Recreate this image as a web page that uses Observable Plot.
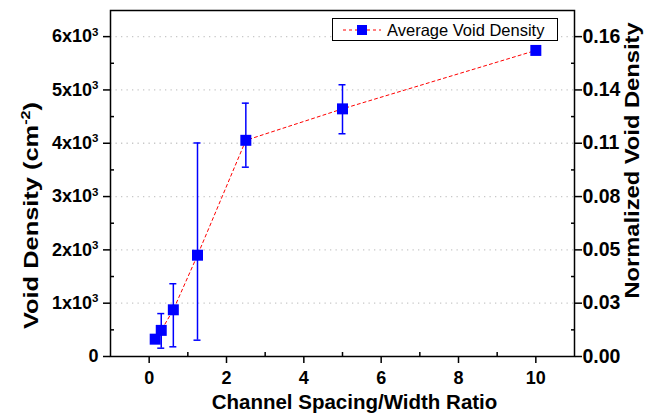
<!DOCTYPE html>
<html><head><meta charset="utf-8">
<script src="https://cdn.jsdelivr.net/npm/d3@7"></script>
<script src="https://cdn.jsdelivr.net/npm/@observablehq/plot@0.6"></script>
<style>
body{margin:0;background:#fff;}
#chart{position:relative;width:651px;height:416px;}
#legend{position:absolute;left:332px;top:18px;}
</style></head><body><div id="chart"></div>
<script>
// ---- data ----
const ratio   = [0.156, 0.3125, 0.625, 1.25, 2.5, 5, 10];
const density = [325, 490, 876, 1900, 4055, 4645, 5741];
const errLow  = [null, 156, 182, 306, 3551, 4178, null];
const errHigh = [null, 805, 1365, 4005, 4752, 5097, null];

const xMajor = [0, 2, 4, 6, 8, 10];
const xMinor = [1, 3, 5, 7, 9];
const yMajor = [0, 1000, 2000, 3000, 4000, 5000, 6000];
const yMinor = [500, 1500, 2500, 3500, 4500, 5500];
const yLeftLabels  = ["0", "1x10^{3}", "2x10^{3}", "3x10^{3}", "4x10^{3}", "5x10^{3}", "6x10^{3}"];
const yRightLabels = ["0.00", "0.03", "0.05", "0.08", "0.11", "0.14", "0.16"];
const xTitle = "Channel Spacing/Width Ratio";
const yTitle = "Void Density (cm^{-2})";
const y2Title = "Normalized Void Density";
const seriesName = "Average Void Density";

const points = ratio.map((x, i) => ({x, y: density[i], lo: errLow[i], hi: errHigh[i]}));
const errs = points.filter(d => d.lo != null);

const blue = "#0000ff", red = "#ff0000";
const font = "'Liberation Sans', Arial, Helvetica, sans-serif";

const chart = Plot.plot({
  width: 651, height: 416,
  marginLeft: 110, marginRight: 77, marginTop: 10, marginBottom: 60,
  x: {domain: [-1, 11]},
  y: {domain: [0, 6490]},
  style: {fontFamily: font, fontSize: "18px", fontWeight: "bold", color: "black", background: "white", overflow: "visible"},
  marks: [
    Plot.gridY(yMajor.slice(1), {stroke: "#c8c8c8", strokeOpacity: 1, strokeWidth: 1.3, strokeDasharray: "1.3,4.2"}),
    Plot.axisX({ticks: xMajor, tickSize: 7, tickPadding: 8, tickFormat: d => String(d), label: null, strokeWidth: 1.5}),
    Plot.axisX({ticks: xMinor, tickSize: -4, text: null, label: null, strokeWidth: 1.5}),
    Plot.axisY({anchor: "left", ticks: yMajor, tickSize: 7, tickPadding: 5, tickFormat: d => yLeftLabels[yMajor.indexOf(d)], label: null, strokeWidth: 1.5}),
    Plot.axisY({anchor: "left", ticks: yMinor, tickSize: -4, text: null, label: null, strokeWidth: 1.5}),
    Plot.axisY({anchor: "right", ticks: yMajor, tickSize: 7, tickPadding: 1, fontSize: 19.5, tickFormat: d => yRightLabels[yMajor.indexOf(d)], label: null, strokeWidth: 1.5}),
    Plot.axisY({anchor: "right", ticks: yMinor, tickSize: -4, text: null, label: null, strokeWidth: 1.5}),
    Plot.frame({stroke: "black", strokeWidth: 1.5}),
    Plot.line(points, {x: "x", y: "y", stroke: red, strokeWidth: 1, strokeDasharray: "3,3"}),
    Plot.ruleX(errs, {x: "x", y1: "lo", y2: "hi", stroke: blue, strokeWidth: 1.5}),
    Plot.ruleY(errs, {x1: "x", x2: "x", y: "lo", insetLeft: -3.5, insetRight: -3.5, stroke: blue, strokeWidth: 1.5}),
    Plot.ruleY(errs, {x1: "x", x2: "x", y: "hi", insetLeft: -3.5, insetRight: -3.5, stroke: blue, strokeWidth: 1.5}),
    Plot.dot(points, {x: "x", y: "y", symbol: "square", r: 6.2, fill: blue, stroke: "none"}),
    Plot.text([xTitle], {text: d => d, frameAnchor: "bottom", textAnchor: "middle", dy: 52, dx: 12, fontSize: 20.5, fontWeight: "bold"}),
    Plot.text([yTitle], {text: d => d, frameAnchor: "left", textAnchor: "middle", rotate: -90, dx: -79, dy: 32, fontSize: 21, fontWeight: "bold", className: "stretch-l"}),
    Plot.text([y2Title], {text: d => d, frameAnchor: "right", textAnchor: "middle", rotate: -90, dx: 58, dy: -23, fontSize: 21, fontWeight: "bold", className: "stretch-r"})
  ]
});

// superscripts: "base^{sup}rest"
chart.querySelectorAll("text").forEach(t => {
  const s = t.textContent;
  const m = s.match(/^(.*?)\^\{(.*?)\}(.*)$/);
  if (!m) return;
  const fs = parseFloat(t.getAttribute("font-size") || (t.parentNode && t.parentNode.getAttribute("font-size"))) || 18;
  while (t.firstChild) t.removeChild(t.firstChild);
  t.appendChild(document.createTextNode(m[1]));
  const sup = document.createElementNS("http://www.w3.org/2000/svg", "tspan");
  sup.setAttribute("dy", (-0.37 * fs).toFixed(1));
  sup.setAttribute("font-size", (0.64 * fs).toFixed(1));
  sup.textContent = m[2];
  t.appendChild(sup);
  if (m[3]) {
    const rest = document.createElementNS("http://www.w3.org/2000/svg", "tspan");
    rest.setAttribute("dy", (0.37 * fs).toFixed(1));
    rest.textContent = m[3];
    t.appendChild(rest);
  }
});

// the rotated titles are drawn wider in the reference: stretch along the text direction
[["stretch-l", 1.21], ["stretch-r", 1.13]].forEach(([cls, k]) => {
  chart.querySelectorAll(`g[class~="${cls}"] text, [class~="${cls}"] text`).forEach(t => {
    const tr = t.getAttribute("transform") || "";
    t.setAttribute("transform", tr + ` scale(${k},1)`);
  });
});

const host = document.getElementById("chart");
host.appendChild(chart);

// legend overlay
const lg = d3.select(host).append("svg").attr("id", "legend").attr("width", 227).attr("height", 24)
  .style("font-family", font);
lg.append("rect").attr("x", 0.5).attr("y", 0.5).attr("width", 225).attr("height", 22)
  .attr("fill", "white").attr("stroke", "black").attr("stroke-width", 1);
lg.append("line").attr("x1", 11).attr("x2", 49).attr("y1", 12).attr("y2", 12)
  .attr("stroke", red).attr("stroke-width", 1).attr("stroke-dasharray", "3,3");
lg.append("rect").attr("x", 25).attr("y", 7).attr("width", 10).attr("height", 10).attr("fill", blue);
lg.append("text").attr("x", 55).attr("y", 12).attr("dy", "0.36em").attr("font-size", 16.5)
  .text(seriesName);
</script>
</body></html>
